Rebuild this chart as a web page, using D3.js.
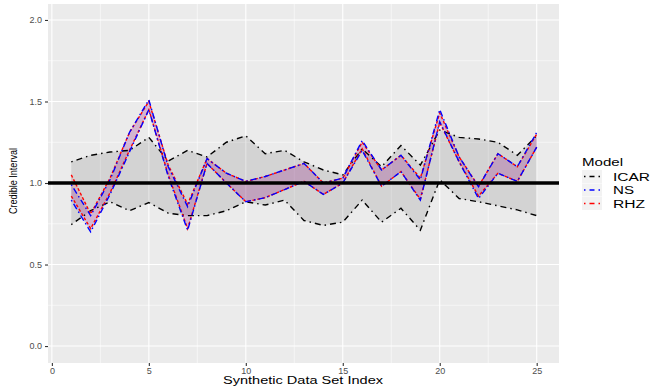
<!DOCTYPE html>
<html>
<head>
<meta charset="utf-8">
<script src="https://cdn.jsdelivr.net/npm/d3@7"></script>
<style>
  body { margin: 0; background: #fff; }
  svg text { font-family: "Liberation Sans", Arial, sans-serif; }
</style>
</head>
<body>
<div id="chart"></div>
<script>
// data set index 1..25
var idx = d3.range(1, 26);

var icarLower = [0.745, 0.83, 0.885, 0.83, 0.88, 0.815, 0.80, 0.80, 0.83, 0.885, 0.865, 0.895, 0.77, 0.74, 0.76, 0.895, 0.76, 0.845, 0.71, 1.02, 0.905, 0.885, 0.86, 0.835, 0.80];
var icarUpper = [1.13, 1.17, 1.19, 1.20, 1.28, 1.135, 1.20, 1.16, 1.25, 1.29, 1.18, 1.20, 1.13, 1.08, 1.05, 1.21, 1.10, 1.23, 1.11, 1.325, 1.28, 1.27, 1.25, 1.17, 1.29];

var nsLower = [0.895, 0.70, 0.93, 1.19, 1.45, 1.04, 0.71, 1.12, 1.00, 0.885, 0.91, 0.96, 1.01, 0.93, 1.00, 1.20, 0.98, 1.07, 0.895, 1.376, 1.13, 0.905, 1.06, 1.01, 1.22];
var nsUpper = [0.99, 0.80, 1.02, 1.31, 1.51, 1.10, 0.855, 1.15, 1.06, 1.01, 1.04, 1.08, 1.12, 1.00, 1.03, 1.26, 1.08, 1.17, 1.02, 1.45, 1.16, 0.977, 1.18, 1.10, 1.31];

var rhzLower = [0.92, 0.72, 0.94, 1.20, 1.45, 1.05, 0.72, 1.12, 1.00, 0.885, 0.91, 0.96, 1.01, 0.93, 1.00, 1.21, 0.98, 1.07, 0.90, 1.37, 1.13, 0.92, 1.06, 1.01, 1.22];
var rhzUpper = [1.05, 0.81, 1.03, 1.31, 1.50, 1.11, 0.87, 1.15, 1.06, 1.01, 1.04, 1.08, 1.12, 1.00, 1.03, 1.25, 1.08, 1.17, 1.03, 1.43, 1.16, 0.98, 1.18, 1.10, 1.30];

var xTicks = [0, 5, 10, 15, 20, 25];
var xMinor = [2.5, 7.5, 12.5, 17.5, 22.5];
var yTicks = [0, 0.5, 1, 1.5, 2];
var yMinor = [0.25, 0.75, 1.25, 1.75];

var models = ["ICAR", "NS", "RHZ"];
var colours = ["black", "blue", "red"];

var W = 664, H = 388;
var pl = 48, pr = 559, pt = 4, pb = 363;

var svg = d3.select("#chart").append("svg")
  .attr("width", W)
  .attr("height", H);

var x = d3.scaleLinear().domain([-0.2, 26.15]).range([pl, pr]);
var y = d3.scaleLinear().domain([-0.104, 2.098]).range([pb, pt]);

// panel
svg.append("rect")
  .attr("x", pl).attr("y", pt)
  .attr("width", pr - pl).attr("height", pb - pt)
  .attr("fill", "#EBEBEB");

var grid = svg.append("g");
grid.selectAll(".ym").data(yMinor).enter().append("line")
  .attr("x1", pl).attr("x2", pr)
  .attr("y1", d => y(d)).attr("y2", d => y(d))
  .attr("stroke", "white").attr("stroke-width", 0.55);
grid.selectAll(".xm").data(xMinor).enter().append("line")
  .attr("y1", pt).attr("y2", pb)
  .attr("x1", d => x(d)).attr("x2", d => x(d))
  .attr("stroke", "white").attr("stroke-width", 0.55);
grid.selectAll(".yM").data(yTicks).enter().append("line")
  .attr("x1", pl).attr("x2", pr)
  .attr("y1", d => y(d)).attr("y2", d => y(d))
  .attr("stroke", "white").attr("stroke-width", 1.1);
grid.selectAll(".xM").data(xTicks).enter().append("line")
  .attr("y1", pt).attr("y2", pb)
  .attr("x1", d => x(d)).attr("x2", d => x(d))
  .attr("stroke", "white").attr("stroke-width", 1.1);

function band(lo, hi) {
  return idx.map(function(d, i) { return { i: d, lo: lo[i], hi: hi[i] }; });
}
var bands = [band(icarLower, icarUpper), band(nsLower, nsUpper), band(rhzLower, rhzUpper)];
var fills = ["rgba(0,0,0,0.1)", "rgba(0,0,255,0.12)", "rgba(255,0,0,0.12)"];

var area = d3.area()
  .x(d => x(d.i))
  .y0(d => y(d.lo))
  .y1(d => y(d.hi));

bands.forEach(function(b, k) {
  svg.append("path").datum(b)
    .attr("d", area)
    .attr("fill", fills[k]);
});

var lineLo = d3.line().x(d => x(d.i)).y(d => y(d.lo));
var lineHi = d3.line().x(d => x(d.i)).y(d => y(d.hi));

var dashes = ["1.5,4,6,4", "1.5,3,6,3", "3,2"];
var order = [0, 2, 1];
order.forEach(function(k) {
  [lineLo, lineHi].forEach(function(l) {
    svg.append("path").datum(bands[k])
      .attr("d", l)
      .attr("fill", "none")
      .attr("stroke", colours[k])
      .attr("stroke-width", 1.4)
      .attr("stroke-dasharray", dashes[k]);
  });
});

// reference line at 1
svg.append("line")
  .attr("x1", pl).attr("x2", pr)
  .attr("y1", y(1)).attr("y2", y(1))
  .attr("stroke", "black").attr("stroke-width", 3.6);

// axes
var xAxis = svg.append("g")
  .attr("transform", "translate(0," + pb + ")")
  .call(d3.axisBottom(x).tickValues(xTicks).tickSize(3).tickPadding(2).tickFormat(d3.format("d")));
var yAxis = svg.append("g")
  .attr("transform", "translate(" + pl + ",0)")
  .call(d3.axisLeft(y).tickValues(yTicks).tickSize(3).tickPadding(3).tickFormat(d3.format(".1f")));
[xAxis, yAxis].forEach(function(a) {
  a.select(".domain").remove();
  a.selectAll(".tick line").attr("stroke", "#333333").attr("stroke-width", 1.1);
  a.selectAll(".tick text")
    .attr("fill", "#4D4D4D")
    .style("font-size", "9px")
    .style("font-family", "'Liberation Sans', Arial, sans-serif");
});

// axis titles
svg.append("text")
  .text("Synthetic Data Set Index")
  .attr("x", 223).attr("y", 384)
  .attr("textLength", 160)
  .attr("lengthAdjust", "spacingAndGlyphs")
  .style("font-size", "10px")
  .attr("fill", "black");

svg.append("text")
  .text("Credible Interval")
  .attr("transform", "translate(17,181) rotate(-90)")
  .attr("text-anchor", "middle")
  .attr("textLength", 66)
  .attr("lengthAdjust", "spacingAndGlyphs")
  .style("font-size", "11px")
  .attr("fill", "black");

// legend
var lg = svg.append("g");
lg.append("text")
  .text("Model")
  .attr("x", 582).attr("y", 166)
  .attr("textLength", 41)
  .attr("lengthAdjust", "spacingAndGlyphs")
  .style("font-size", "10px");

var labW = [37, 21, 32];
models.forEach(function(m, k) {
  var cy = 176.5 + k * 13.5;
  lg.append("rect")
    .attr("x", 582).attr("y", cy - 6.5)
    .attr("width", 20).attr("height", 13)
    .attr("fill", "#F2F2F2");
  lg.append("line")
    .attr("x1", 584).attr("x2", 600)
    .attr("y1", cy).attr("y2", cy)
    .attr("stroke", colours[k])
    .attr("stroke-width", 1.4)
    .attr("stroke-dasharray", "1.5,4,5,4");
  lg.append("text")
    .text(m)
    .attr("x", 613).attr("y", cy + 4)
    .attr("textLength", labW[k])
    .attr("lengthAdjust", "spacingAndGlyphs")
    .style("font-size", "10px");
});
</script>
</body>
</html>
